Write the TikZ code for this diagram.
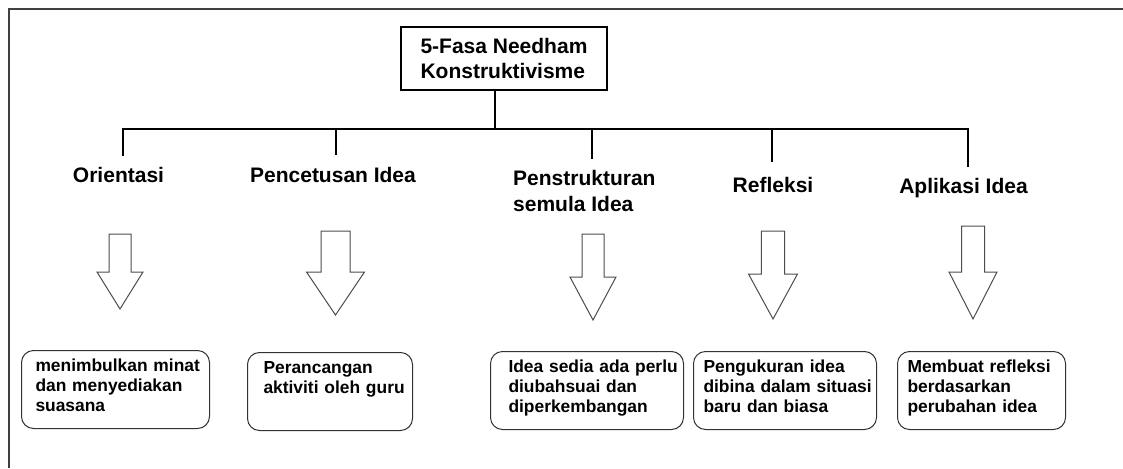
\documentclass[tikz,border=0pt]{standalone}
\usepackage{fontspec}
\setmainfont{Liberation Sans}

\begin{document}
\begin{tikzpicture}[x=1pt,y=-1pt,
  garis/.style={line width=1.1pt},
  tajuk/.style={draw,line width=1.1pt,minimum width=206pt,minimum height=63pt,
    align=left,font=\fontsize{21}{25.6}\selectfont\bfseries},
  fasa/.style={inner sep=0pt,font=\fontsize{21}{25.6}\selectfont\bfseries},
  idea/.style={draw=black!80,line width=1pt,rounded corners=12pt,anchor=north west,
    align=left,font=\fontsize{17.4}{20}\selectfont\bfseries,inner ysep=8pt,
    text height=13pt,text depth=49pt,execute at begin node={\rightskip=-40pt plus 1fil}},
  blok/.style={draw=black!70,line width=1pt}]
\useasboundingbox (0,0) rectangle (1123,468);
\draw[black!75,line width=1.2pt] (9,468) -- (9,9) -- (1123,9);

% tajuk utama
\node[tajuk] (title) at (504,58.5) {5-Fasa Needham\\Konstruktivisme};

% lima fasa
\node[fasa,anchor=base] (orient) at (118.5,182) {Orientasi};
\node[fasa,anchor=base] (cetus) at (333,182) {Pencetusan Idea};
\node[fasa,anchor=north west,align=left] (struktur) at (513,170) {Penstrukturan\\semula Idea};
\node[fasa,anchor=base] (refleksi) at (773,192) {Refleksi};
\node[fasa,anchor=base] (aplikasi) at (963.5,193) {Aplikasi Idea};

% garisan penghubung
\coordinate (hub) at (495,129);
\coordinate (barL) at (122,129);
\coordinate (barR) at (969,129);
\coordinate (d1) at (123,129);
\coordinate (d2) at (336,129);
\coordinate (d3) at (592,129);
\coordinate (d4) at (772,129);
\coordinate (d5) at (968,129);
\draw[garis] (title.south -| hub) -- (hub);
\draw[garis] (barL) -- (barR);
\foreach \d/\n/\g in {d1/orient/11,d2/cetus/12,d3/struktur/11,d4/refleksi/15,d5/aplikasi/11}
  \draw[garis,shorten >=\g pt] (\d) -- (\d |- \n.north);

% anak panah blok
\foreach \x/\t/\h/\e/\s/\w in {120/234/272/309/11/23,335.5/231/272/315/14.5/29,
    593/234/277/320/11/23,773/231/274/319/11.7/24.5,973/226/272/319/11.5/24}
  \draw[blok] (\x-\s,\t) -- (\x+\s,\t) -- (\x+\s,\h) -- (\x+\w,\h) -- (\x,\e)
    -- (\x-\w,\h) -- (\x-\s,\h) -- cycle;

% kotak huraian
\node[idea,inner xsep=14pt,text width=160pt] (b1) at (21,350) {menimbulkan minat\\dan menyediakan\\suasana};
\node[idea,inner xsep=16pt,text width=133pt] (b2) at (247,352) {Perancangan\\aktiviti oleh guru};
\node[idea,inner xsep=18pt,text width=157pt] (b3) at (490,351) {Idea sedia ada perlu\\diubahsuai dan\\diperkembangan};
\node[idea,inner xsep=10pt,text width=163pt] (b4) at (693,351) {Pengukuran idea\\dibina dalam situasi\\baru dan biasa};
\node[idea,inner xsep=10pt,text width=148pt] (b5) at (897,351) {Membuat refleksi\\berdasarkan\\perubahan idea};
\end{tikzpicture}
\end{document}
